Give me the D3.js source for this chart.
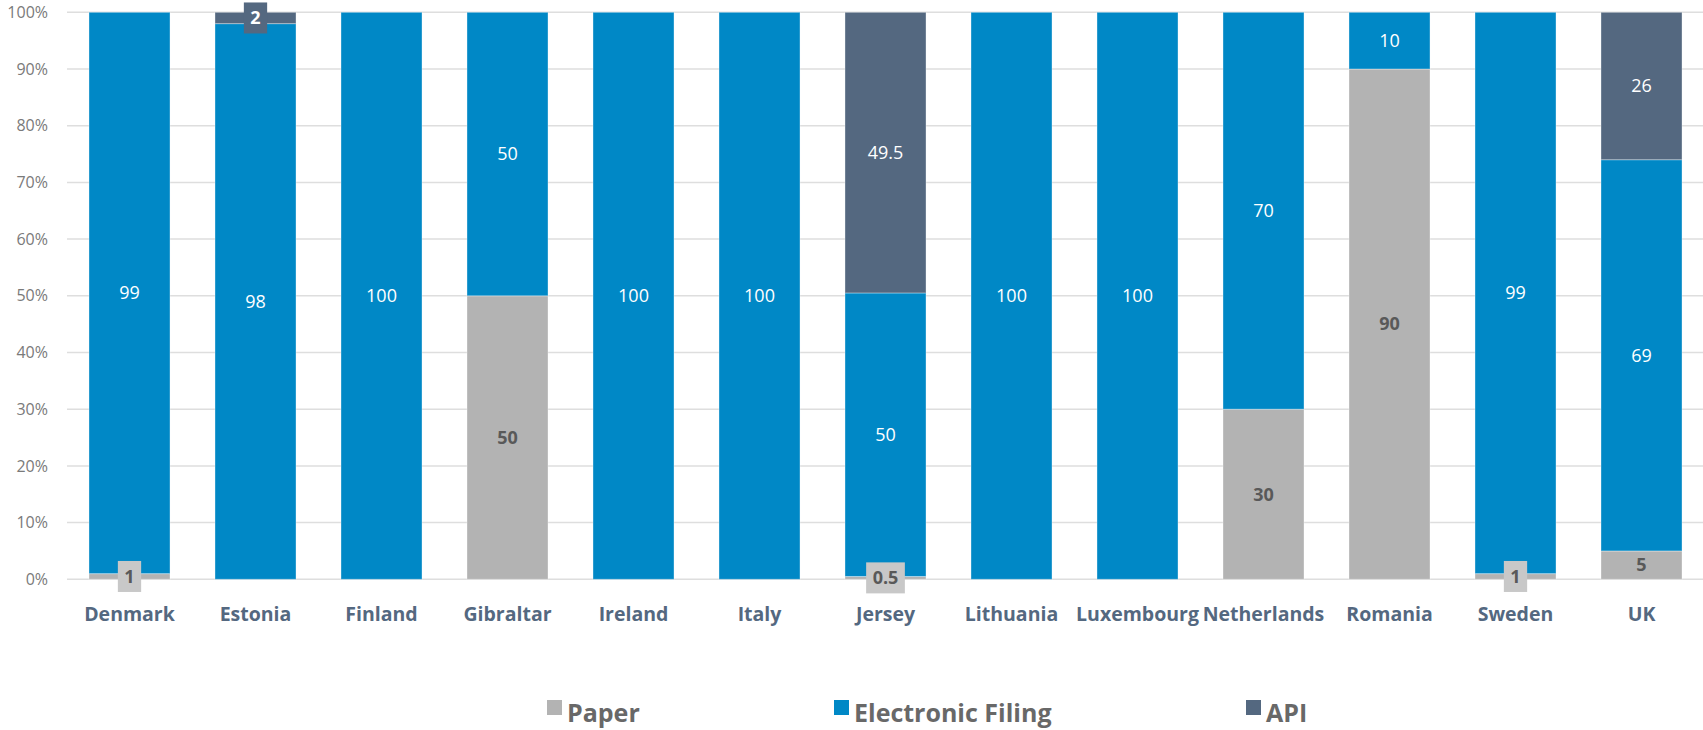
<!DOCTYPE html>
<html lang="en">
<head>
<meta charset="UTF-8">
<title>Filing method by country</title>
<script src="https://d3js.org/d3.v7.min.js"></script>
<style>
    body { margin: 0; background: #fff; }
    svg text { font-family: "Open Sans", sans-serif; }
</style>
</head>
<body>
<svg id="main" width="1703" height="730"></svg>
<script>
    const categories = ['Denmark', 'Estonia', 'Finland', 'Gibraltar', 'Ireland', 'Italy', 'Jersey',
        'Lithuania', 'Luxembourg', 'Netherlands', 'Romania', 'Sweden', 'UK'];
    const paper      = [1, 0, 0, 50, 0, 0, 0.5, 0, 0, 30, 90, 1, 5];
    const electronic = [99, 98, 100, 50, 100, 100, 50, 100, 100, 70, 10, 99, 69];
    const api        = [0, 2, 0, 0, 0, 0, 49.5, 0, 0, 0, 0, 0, 26];
    const yTicks = [0, 10, 20, 30, 40, 50, 60, 70, 80, 90, 100];

    const seriesNames = ['Paper', 'Electronic Filing', 'API'];
    const colors = ['#b3b3b3', '#0088c6', '#546880'];
    const boxColors = ['#c8c8c8', '#0088c6', '#546880'];
    const labelColors = ['#595959', '#ffffff', '#ffffff'];
    const labelWeights = ['bold', 'normal', 'normal'];

    const rows = categories.map((c, i) => ({
        country: c, Paper: paper[i], 'Electronic Filing': electronic[i], API: api[i]
    }));

    const svg = d3.select('svg#main');
    const plotLeft = 66.5, plotRight = 1704.5, plotTop = 12.3, plotBottom = 579.3;

    const x = d3.scaleBand().domain(categories).range([plotLeft, plotRight])
        .paddingInner(0.357).paddingOuter(0.1785);
    const y = d3.scaleLinear().domain([0, 100]).range([plotBottom, plotTop]);

    // gridlines
    svg.append('g').selectAll('line')
        .data(yTicks).join('line')
        .attr('x1', 67).attr('x2', 1703)
        .attr('y1', d => y(d)).attr('y2', d => y(d))
        .attr('stroke', '#dedede').attr('stroke-width', 1.5);

    // y axis labels
    const yAxis = svg.append('g').attr('transform', 'translate(50,0)')
        .call(d3.axisLeft(y).tickValues(yTicks).tickFormat(d => d + '%').tickSize(0).tickPadding(2));
    yAxis.select('.domain').remove();
    yAxis.selectAll('text').attr('font-size', 16).attr('fill', '#7a7a7a')
        .attr('font-family', '"Open Sans", sans-serif');

    const stacked = d3.stack().keys(seriesNames)(rows);

    const groups = svg.append('g').selectAll('g')
        .data(stacked).join('g')
        .attr('fill', (d, i) => colors[i]);

    groups.selectAll('rect')
        .data(d => d.filter(s => s[1] - s[0] > 0))
        .join('rect')
        .attr('x', d => x(d.data.country))
        .attr('width', x.bandwidth())
        .attr('y', d => y(d[1]))
        .attr('height', d => y(d[0]) - y(d[1]))
        .attr('stroke', 'rgba(255,255,255,0.35)')
        .attr('stroke-width', 1);

    // data labels, small segments get a boxed label
    const labels = svg.append('g');
    stacked.forEach((s, si) => {
        s.forEach(d => {
            const v = d[1] - d[0];
            if (v <= 0) return;
            const cx = x(d.data.country) + x.bandwidth() / 2;
            const cy = y((d[0] + d[1]) / 2);
            const g = labels.append('g');
            const t = g.append('text')
                .attr('x', cx).attr('y', cy)
                .attr('text-anchor', 'middle')
                .attr('dy', '0.35em')
                .attr('font-size', 18)
                .attr('font-weight', v < 3 ? 'bold' : labelWeights[si])
                .attr('fill', labelColors[si])
                .text(v);
            if (v < 3) {
                const w = t.node().getComputedTextLength() + 13;
                g.insert('rect', 'text')
                    .attr('x', cx - w / 2).attr('y', cy - 15.5)
                    .attr('width', w).attr('height', 31)
                    .attr('fill', boxColors[si]);
            }
        });
    });

    // category labels
    svg.append('g').selectAll('text')
        .data(categories).join('text')
        .attr('x', d => x(d) + x.bandwidth() / 2)
        .attr('y', 621)
        .attr('text-anchor', 'middle')
        .attr('font-size', 19.5)
        .attr('font-weight', 'bold')
        .attr('fill', '#546880')
        .text(d => d);

    // legend
    const legendX = [547, 834, 1246];
    const legend = svg.append('g').selectAll('g')
        .data(seriesNames).join('g')
        .attr('transform', (d, i) => `translate(${legendX[i]},0)`);
    legend.append('rect')
        .attr('x', 0).attr('y', 700).attr('width', 15).attr('height', 15)
        .attr('fill', (d, i) => colors[i]);
    legend.append('text')
        .attr('x', 20).attr('y', 722)
        .attr('font-size', 25).attr('font-weight', 'bold')
        .attr('fill', '#686868')
        .text(d => d);
</script>
</body>
</html>
